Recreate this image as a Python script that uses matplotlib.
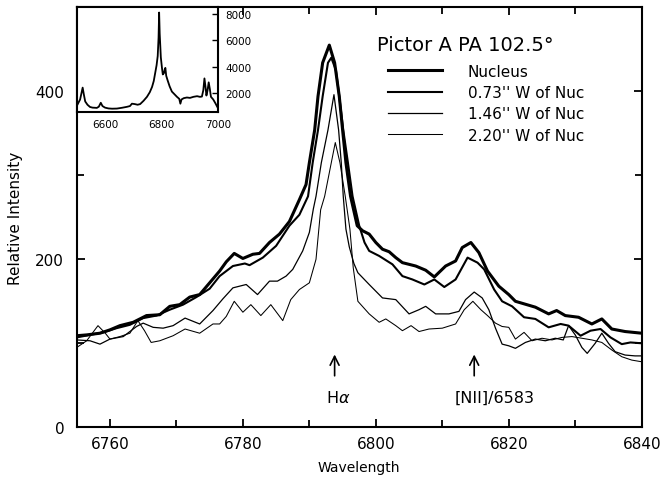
# Pictor A - perfiles de Halpha/[NII] a lo largo de PA 102.5
import numpy as np
import matplotlib.pyplot as plt

# Datos
wl_nuc = [6755, 6756.5, 6758.5, 6760, 6761.5, 6763.5, 6765.5, 6767.5, 6769, 6770.5,
          6772, 6773.5, 6775, 6776.5, 6777.5, 6778.7, 6780, 6781.5, 6782.5, 6784,
          6785.5, 6787, 6788.5, 6789.5, 6790, 6790.8, 6791.3, 6792, 6793, 6793.8,
          6794.5, 6795, 6795.5, 6796.2, 6797.2, 6798, 6799, 6800, 6801, 6802,
          6803, 6804, 6806, 6807.5, 6808.8, 6810.5, 6812, 6813, 6814.3, 6815.5,
          6816.8, 6818.5, 6820, 6821, 6824, 6826, 6827.2, 6828.5, 6830.5, 6832.5,
          6834, 6835.5, 6837.5, 6840]
I_nuc = [109, 110, 112, 116, 121, 125, 133, 134, 144, 146,
         155, 158, 172, 186, 197, 207, 201, 206, 207, 220,
         230, 245, 271, 289, 315, 354, 394, 434, 455, 434,
         394, 354, 315, 275, 240, 234, 230, 220, 212, 209,
         202, 196, 192, 187, 179, 192, 198, 214, 220, 208,
         186, 168, 158, 150, 143, 135, 139, 133, 131, 123,
         129, 117, 114, 112]

wl_073 = [6755, 6757, 6759, 6761, 6763, 6765, 6767, 6769, 6771, 6773,
          6775, 6776.5, 6778.5, 6780.3, 6781, 6783, 6785, 6787, 6788.5, 6789.8,
          6790.5, 6791.3, 6792, 6792.8, 6793.3, 6794, 6794.5, 6795.1, 6795.8, 6796.5,
          6797.5, 6798.3, 6799, 6800.5, 6802.5, 6804, 6805.5, 6807.3, 6808.8, 6810.3,
          6812, 6813.8, 6815.3, 6816.3, 6817.8, 6819, 6820.5, 6822.3, 6824, 6826,
          6827.8, 6829, 6830.8, 6832.3, 6833.8, 6835.3, 6837, 6838.3, 6840]
I_073 = [107, 110, 113, 118, 122, 130, 133, 140, 146, 155,
         165, 180, 192, 195, 193, 202, 216, 240, 253, 275,
         315, 354, 394, 434, 440, 425, 394, 354, 315, 275,
         240, 220, 210, 204, 194, 180, 176, 170, 176, 167,
         176, 202, 196, 188, 164, 150, 144, 131, 129, 119,
         123, 121, 109, 115, 117, 107, 99, 101, 100]

wl_146 = [6755, 6757, 6758.5, 6760, 6762, 6764, 6765, 6766.5, 6768, 6769.5,
          6771.3, 6773.5, 6775.5, 6777, 6778.5, 6780.5, 6782.2, 6784, 6785.2, 6786.5,
          6787.5, 6789, 6790, 6790.6, 6791, 6791.8, 6792.8, 6793.7, 6794.4, 6794.8,
          6795.1, 6795.5, 6796, 6796.7, 6797.3, 6799, 6801, 6803, 6805, 6806.5,
          6807.5, 6809, 6811, 6812.5, 6813.5, 6814.8, 6816, 6817, 6818, 6819,
          6820, 6821, 6822.5, 6824, 6825.5, 6827, 6828.2, 6829, 6830, 6831,
          6831.8, 6833, 6834, 6835, 6836, 6837.5, 6839, 6840]
I_146 = [104, 103, 99, 105, 108, 120, 124, 119, 118, 121,
         130, 123, 139, 153, 166, 170, 158, 174, 174, 180,
         188, 210, 232, 260, 275, 315, 354, 396, 354, 315,
         275, 236, 215, 195, 184, 170, 154, 152, 135, 140,
         144, 135, 135, 138, 152, 161, 154, 140, 118, 99,
         97, 94, 101, 105, 103, 106, 104, 121, 110, 95,
         88, 100, 112, 100, 90, 86, 85, 85]

wl_220 = [6755, 6756.5, 6758.2, 6759.3, 6760, 6761.5, 6763, 6764.2, 6765.2, 6766.2,
          6767.5, 6769.5, 6771.3, 6773.5, 6775.5, 6776.5, 6777.5, 6778.7, 6780, 6781.2,
          6782.7, 6784.2, 6786, 6787.2, 6788.5, 6790, 6791, 6791.7, 6792.3, 6793.3,
          6793.9, 6794.6, 6795.4, 6796.1, 6796.6, 6797.3, 6799, 6800.5, 6801.5, 6803,
          6804, 6805.3, 6806.5, 6808, 6810, 6812, 6813.3, 6814.6, 6815.8, 6816.8,
          6818, 6819, 6820, 6821, 6822.3, 6823.5, 6825, 6826.5, 6828, 6829.5,
          6831, 6832.5, 6834, 6835.5, 6837, 6838.5, 6840]
I_220 = [95, 103, 121, 112, 105, 108, 112, 127, 115, 101,
         103, 109, 117, 112, 123, 123, 132, 150, 137, 146,
         133, 146, 127, 152, 164, 172, 200, 259, 275, 315,
         339, 315, 275, 236, 190, 150, 135, 125, 129, 121,
         115, 121, 114, 117, 118, 123, 140, 150, 140, 133,
         124, 120, 119, 105, 113, 103, 106, 104, 107, 108,
         106, 104, 101, 92, 84, 80, 78]

# Espectro completo (recuadro)
wl_full = [6500, 6506, 6512, 6517, 6521, 6525, 6530, 6538, 6547, 6556,
           6565, 6571, 6578, 6585, 6591, 6600, 6612, 6625, 6642, 6660,
           6677, 6688, 6695, 6705, 6715, 6724, 6736, 6748, 6758, 6766,
           6772, 6777, 6782, 6786, 6789, 6791, 6793, 6797, 6801, 6804,
           6808, 6811, 6813, 6816, 6821, 6828, 6836, 6845, 6854, 6862,
           6866, 6870, 6878, 6889, 6900, 6912, 6925, 6935, 6942, 6947,
           6951, 6955, 6958, 6962, 6966, 6970, 6974, 6982, 6990, 6996, 7000]
I_full = [1000, 1250, 1500, 2000, 2400, 1900, 1350, 1100, 930, 880,
          870, 860, 950, 1250, 1000, 880, 820, 800, 810, 870,
          940, 1000, 1180, 1150, 1100, 1150, 1400, 1700, 2050, 2450,
          2900, 3500, 4100, 4800, 6200, 8100, 6500, 4700, 3900, 3400,
          3500, 3800, 3900, 3300, 2950, 2500, 2100, 1900, 1700, 1550,
          1180, 1500, 1600, 1650, 1620, 1700, 1750, 1700, 1720, 2200,
          3100, 2400, 1800, 2200, 2800, 2300, 1700, 1500, 1200, 950, 800]

fs = 11
plt.rcParams['font.family'] = 'DejaVu Sans'

fig = plt.figure(figsize=(6.63, 4.81), dpi=100)
fig.patch.set_facecolor('white')
ax = fig.add_axes([0.1157, 0.1096, 0.8522, 0.8731])

ax.plot(wl_nuc, I_nuc, '-', color='black', lw=2.2, label='Nucleus')
ax.plot(wl_073, I_073, '-', color='black', lw=1.5, label='0.73\'\' W of Nuc')
ax.plot(wl_146, I_146, '-', color='black', lw=0.9, label='1.46\'\' W of Nuc')
ax.plot(wl_220, I_220, '-', color='black', lw=0.75, label='2.20\'\' W of Nuc')

ax.set_xlim(6755, 6840)
ax.set_ylim(0, 500)
ax.set_xticks(np.arange(6760, 6841, 20))
ax.set_xticks(np.arange(6760, 6841, 10), minor=True)
ax.set_yticks([0, 200, 400])
ax.set_yticks([100, 300], minor=True)
ax.tick_params(which='both', direction='in', top=True, right=True, width=1.3,
               labelsize=fs)
ax.tick_params(which='major', length=6)
ax.tick_params(which='minor', length=5)
ax.tick_params(axis='y', pad=9)
ax.tick_params(axis='x', pad=6)
for s in ax.spines.values():
    s.set_linewidth(1.5)

ax.set_xlabel('Wavelength', fontsize=10, labelpad=7)
ax.set_ylabel('Relative Intensity', fontsize=11, labelpad=9)

# Marcas de lineas
flecha = dict(arrowstyle='->', lw=1.2, color='black', mutation_scale=16)
ax.annotate('', xy=(6793.8, 90), xytext=(6793.8, 58), arrowprops=flecha)
ax.text(6794.4, 36, r'H$\alpha$', ha='center', va='center', fontsize=11.5)
ax.annotate('', xy=(6814.8, 90), xytext=(6814.8, 58), arrowprops=flecha)
ax.text(6817.9, 36, '[NII]/6583', ha='center', va='center', fontsize=11.5)

# Titulo y leyenda
ax.text(0.531, 0.9126, 'Pictor A PA 102.5°', transform=ax.transAxes,
        ha='left', va='center', fontsize=14)
leg = ax.legend(loc='upper left', bbox_to_anchor=(0.5515, 0.866), frameon=False,
                fontsize=11, handlelength=3.5, handletextpad=1.7,
                labelspacing=0.42, borderpad=0, borderaxespad=0)

# Recuadro con el espectro completo
axi = fig.add_axes([0.1157, 0.7651, 0.2136, 0.2177])
axi.plot(wl_full, I_full, '-', color='black', lw=1.3)
axi.set_xlim(6500, 7000)
axi.set_ylim(550, 8500)
axi.set_xticks([6600, 6800, 7000])
axi.set_yticks([2000, 4000, 6000, 8000])
axi.yaxis.tick_right()
axi.tick_params(axis='y', direction='in', length=4, width=1, labelsize=7.5, pad=5)
axi.tick_params(axis='x', direction='in', length=0, labelsize=7.5, pad=5)
for s in axi.spines.values():
    s.set_linewidth(1.5)

plt.savefig('out.png', dpi=100)
